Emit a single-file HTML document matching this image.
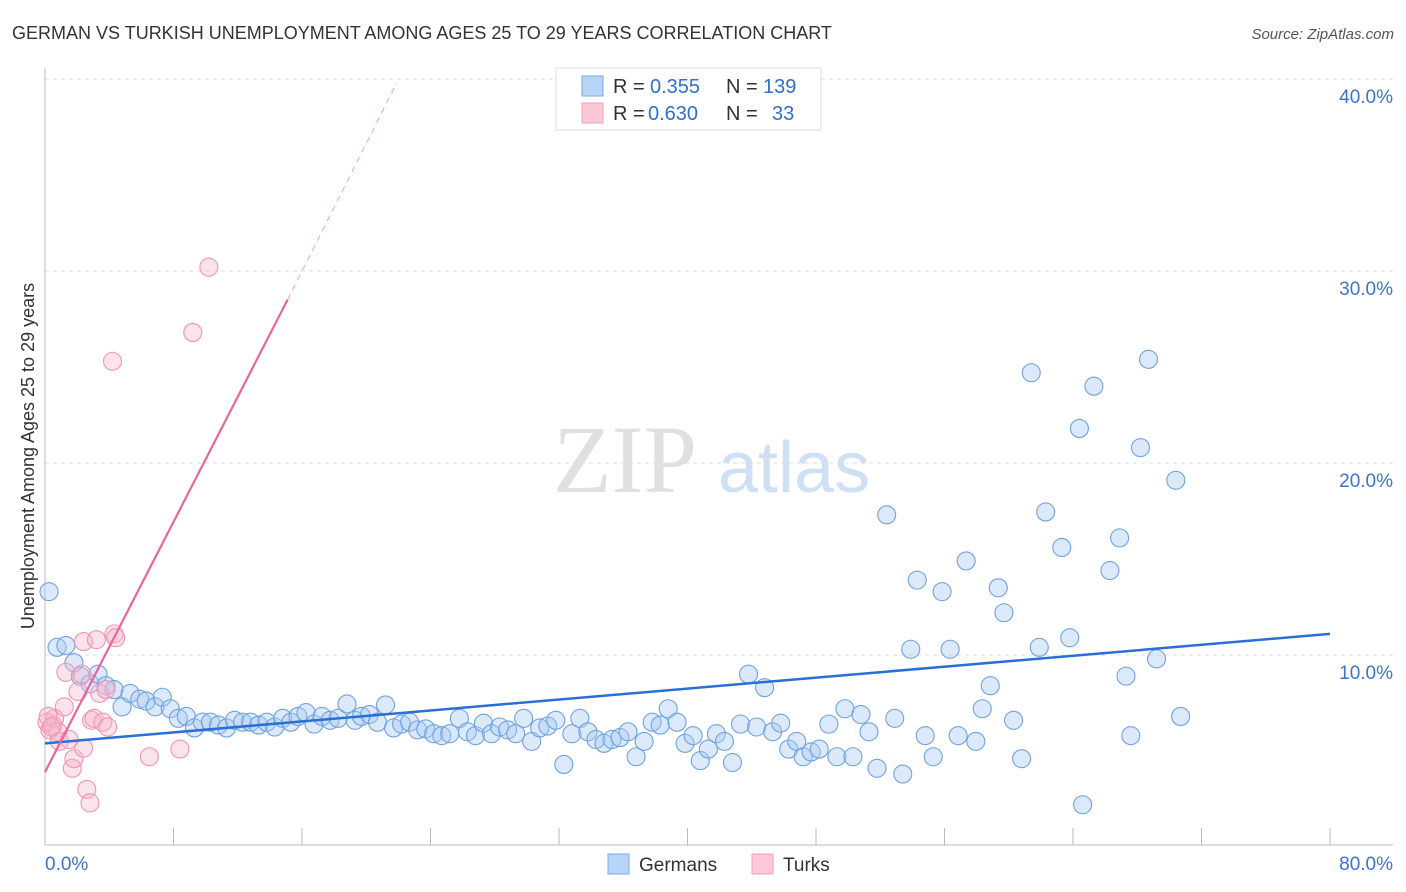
<!DOCTYPE html>
<html><head><meta charset="utf-8"><style>
body{margin:0;background:#fff;font-family:"Liberation Sans",sans-serif}
svg{display:block}
</style></head><body>
<svg width="1406" height="892" xmlns="http://www.w3.org/2000/svg" font-family="Liberation Sans, sans-serif">
<text x="12" y="39" font-size="18" fill="#333">GERMAN VS TURKISH UNEMPLOYMENT AMONG AGES 25 TO 29 YEARS CORRELATION CHART</text>
<text x="1394" y="39" font-size="15" fill="#555" text-anchor="end" font-style="italic">Source: ZipAtlas.com</text>
<g>
<text x="553" y="492" font-size="96" font-family="Liberation Serif, serif" fill="#e0e0e0">ZIP</text>
<text x="718" y="492" font-size="72" fill="#d0e0f4">atlas</text>
</g>
<g id="grid"></g>
<g id="axes"></g>
<g id="marks"></g>
<text transform="translate(34,456) rotate(-90)" font-size="18" fill="#333" text-anchor="middle">Unemployment Among Ages 25 to 29 years</text>
<g>
<rect x="556" y="68" width="265" height="62" fill="#fff" stroke="#ddd"/>
<rect x="582" y="76" width="21" height="20" fill="#b8d4f6" stroke="#7aaae6"/>
<rect x="582" y="103" width="21" height="20" fill="#fcc8d8" stroke="#f0a0b8"/>
<text x="613" y="93" font-size="20" fill="#333">R =</text>
<text x="650" y="93" font-size="20" fill="#2f6fd0">0.355</text>
<text x="726" y="93" font-size="20" fill="#333">N =</text>
<text x="763" y="93" font-size="20" fill="#2f6fd0">139</text>
<text x="613" y="120" font-size="20" fill="#333">R =</text>
<text x="648" y="120" font-size="20" fill="#2f6fd0">0.630</text>
<text x="726" y="120" font-size="20" fill="#333">N =</text>
<text x="772" y="120" font-size="20" fill="#2f6fd0">33</text>
</g>
<g>
<rect x="608" y="854" width="21" height="20" fill="#b8d4f6" stroke="#7aaae6"/>
<text x="639" y="871" font-size="19" fill="#333">Germans</text>
<rect x="752" y="854" width="21" height="20" fill="#fcc8d8" stroke="#f0a0b8"/>
<text x="783" y="871" font-size="19" fill="#333">Turks</text>
</g>
</svg>
<script>
const yTicks=[10,20,30,40];
const yTickLabels=["10.0%","20.0%","30.0%","40.0%"];
const xTicks=[0,8,16,24,32,40,48,56,64,72,80];
const xLabels=["0.0%","80.0%"];
const germanX=[0.25,0.75,1.3,1.8,2.2,2.8,3.3,3.8,4.3,4.8,5.3,5.9,6.3,6.85,7.3,7.8,8.3,8.8,9.3,9.8,10.3,10.8,11.3,11.8,12.3,12.8,13.3,13.8,14.3,14.8,15.3,15.75,16.25,16.75,17.25,17.75,18.25,18.8,19.3,19.7,20.2,20.7,21.2,21.7,22.2,22.7,23.2,23.7,24.2,24.7,25.2,25.8,26.3,26.8,27.3,27.8,28.3,28.8,29.3,29.8,30.3,30.8,31.3,31.8,32.3,32.8,33.3,33.8,34.3,34.8,35.3,35.8,36.3,36.8,37.3,37.8,38.3,38.8,39.35,39.85,40.35,40.8,41.3,41.8,42.3,42.8,43.3,43.8,44.3,44.8,45.3,45.8,46.3,46.8,47.2,47.7,48.2,48.8,49.3,49.8,50.3,50.8,51.3,51.8,52.4,52.9,53.4,53.9,54.3,54.8,55.3,55.85,56.35,56.85,57.35,57.95,58.35,58.85,59.35,59.7,60.3,60.8,61.4,61.9,62.3,63.3,63.8,64.4,64.6,65.3,66.3,66.9,67.3,67.6,68.2,68.7,69.2,70.4,70.7];
const germanY=[13.3,10.4,10.5,9.6,8.9,8.5,9.0,8.4,8.2,7.3,8.0,7.7,7.6,7.3,7.8,7.2,6.7,6.8,6.2,6.5,6.5,6.35,6.2,6.6,6.5,6.5,6.35,6.5,6.25,6.7,6.5,6.8,7.0,6.4,6.8,6.6,6.7,7.45,6.6,6.8,6.9,6.5,7.4,6.2,6.4,6.5,6.1,6.15,5.9,5.8,5.9,6.7,6.0,5.8,6.45,5.9,6.25,6.1,5.9,6.7,5.5,6.2,6.3,6.6,4.3,5.9,6.7,6.0,5.6,5.4,5.6,5.7,6.0,4.7,5.5,6.5,6.35,7.2,6.5,5.4,5.8,4.5,5.1,5.9,5.5,4.4,6.4,9.0,6.25,8.3,6.0,6.45,5.1,5.5,4.7,4.95,5.1,6.4,4.7,7.2,4.7,6.9,6.0,4.1,17.3,6.7,3.8,10.3,13.9,5.8,4.7,13.3,10.3,5.8,14.9,5.5,7.2,8.4,13.5,12.2,6.6,4.6,24.7,10.4,17.45,15.6,10.9,21.8,2.2,24.0,14.4,16.1,8.9,5.8,20.8,25.4,9.8,19.1,6.8];
const turkX=[0.12,0.3,0.5,0.6,0.8,0.9,1.2,1.3,1.5,1.7,1.8,2.05,2.3,2.4,2.4,2.6,2.8,2.9,3.05,3.2,3.4,3.6,3.8,3.9,4.2,4.3,4.4,6.5,8.4,9.2,10.2,0.2,0.4];
const turkY=[6.5,6.1,6.35,6.7,6.0,5.5,7.3,9.1,5.6,4.1,4.6,8.1,9.0,5.15,10.7,3.0,2.3,6.6,6.7,10.8,8.0,6.5,8.2,6.25,25.3,11.1,10.9,4.7,5.1,26.8,30.2,6.8,6.25];
const germanTrend=[[0,5.4],[80,11.1]];
const turkTrend=[[0,3.9],[15.1,28.5]];
const turkTrendExt=[[15.1,28.5],[21.9,39.8]];

const NS="http://www.w3.org/2000/svg";
const X0=45,X1=1330,Y0=847,PY=19.2;
const sx=v=>X0+(X1-X0)*v/80;
const sy=v=>Y0-PY*v;
function mk(tag,attrs,parent){const e=document.createElementNS(NS,tag);for(const k in attrs)e.setAttribute(k,attrs[k]);parent.appendChild(e);return e;}
const grid=document.getElementById('grid'),axes=document.getElementById('axes'),marks=document.getElementById('marks');
yTicks.forEach((t,i)=>{
 const l=mk('line',{x1:X0,x2:1393,y1:sy(t),y2:sy(t),stroke:'#ddd','stroke-dasharray':'4,4'},grid);
 
 
 const tx=mk('text',{x:1393,y:sy(t)+24,'font-size':19,fill:'#3a74d0','text-anchor':'end'},grid);
 tx.textContent=yTickLabels[i];
 
 
});
const ax=mk('line',{x1:X0,x2:X0,y1:68,y2:845,stroke:'#bbb'},axes);


const bx=mk('line',{x1:X0,x2:1393,y1:845,y2:845,stroke:'#bbb'},axes);


xTicks.forEach(t=>{
 const l=mk('line',{x1:sx(t),x2:sx(t),y1:828,y2:845,stroke:'#bbb'},axes);
 
 
});
[[0,'start'],[80,'end']].forEach((p,i)=>{
 const tx=mk('text',{x:i?1393:45,y:870,'font-size':19,fill:'#3a74d0','text-anchor':p[1]},axes);
 tx.textContent=xLabels[i];
 
 
});
germanX.forEach((v,i)=>{
 const c=mk('circle',{cx:sx(v),cy:sy(germanY[i]),r:9,fill:'rgba(168,200,242,0.4)',stroke:'#6fa2e2','stroke-width':1.1},marks);
 
 
});
turkX.forEach((v,i)=>{
 const c=mk('circle',{cx:sx(v),cy:sy(turkY[i]),r:9,fill:'rgba(248,182,204,0.4)',stroke:'#f095b2','stroke-width':1.1},marks);
 
 
});
const gl=mk('line',{x1:sx(germanTrend[0][0]),y1:sy(germanTrend[0][1]),x2:sx(germanTrend[1][0]),y2:sy(germanTrend[1][1]),stroke:'#2a6fd6','stroke-width':2.5},marks);


const tl=mk('line',{x1:sx(turkTrend[0][0]),y1:sy(turkTrend[0][1]),x2:sx(turkTrend[1][0]),y2:sy(turkTrend[1][1]),stroke:'#e8669a','stroke-width':2.2},marks);


const te=mk('line',{x1:sx(turkTrendExt[0][0]),y1:sy(turkTrendExt[0][1]),x2:sx(turkTrendExt[1][0]),y2:sy(turkTrendExt[1][1]),stroke:'#f0a0bc','stroke-width':1,'stroke-dasharray':'6,5'},marks);


</script>
</body></html>
